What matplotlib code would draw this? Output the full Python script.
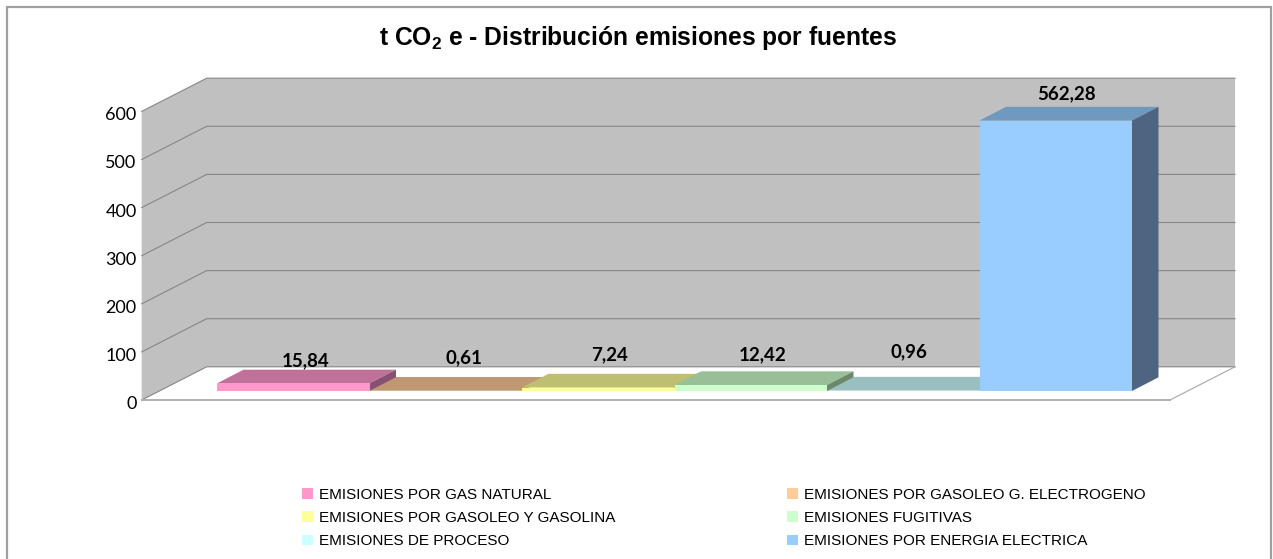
import matplotlib
matplotlib.use("Agg")
import matplotlib.pyplot as plt
from matplotlib.patches import Polygon

W, H = 1273, 559

categories = [
    "EMISIONES POR GAS NATURAL",
    "EMISIONES POR GASOLEO G. ELECTROGENO",
    "EMISIONES POR GASOLEO Y GASOLINA",
    "EMISIONES FUGITIVAS",
    "EMISIONES DE PROCESO",
    "EMISIONES POR ENERGIA ELECTRICA",
]
values = [15.84, 0.61, 7.24, 12.42, 0.96, 562.28]
value_labels = ["15,84", "0,61", "7,24", "12,42", "0,96", "562,28"]
y_ticks = [0, 100, 200, 300, 400, 500, 600]

front_colors = ["#FF99CC", "#FFCC99", "#FFFF99", "#CCFFCC", "#CCFFFF", "#99CCFF"]
top_colors = ["#BF7199", "#BF9872", "#BFBF72", "#99BF99", "#99BFBF", "#7099BF"]
side_colors = ["#875070", "#876C50", "#878750", "#6C876C", "#6C8787", "#4F6480"]

# Label nudges in pixels from the bar's front top centre
label_dx = [12, 18, 11, 12, 6, 11]
label_dy = [23, 33, 33, 30, 39, 27]

# Layout, in picture pixels
CAT_W = 152.5
CAT_0 = 293.25
VAL_H = 0.481
BAR_BASE = 391
DEPTH_X = 26.5
DEPTH_Y = 13.7


def cx(px):
    return (px - CAT_0) / CAT_W


def vy(px):
    return (BAR_BASE - px) / VAL_H


plt.rcParams["font.family"] = "Liberation Sans"
plt.rcParams["mathtext.default"] = "regular"

fig = plt.figure(figsize=(W / 100, H / 100), dpi=100)
ax = fig.add_axes([0, 0, 1, 1])
ax.set_xlim(cx(0), cx(W))
ax.set_ylim(vy(H), vy(0))
ax.axis("off")

# Outer frame, the bottom edge falls off the picture
ax.plot([cx(6.5), cx(6.5), cx(1270.5), cx(1270.5)], [vy(H), vy(6.5), vy(6.5), vy(H)],
        color="#A0A0A0", lw=1.6, solid_joinstyle="miter", zorder=1)

# Walls and floor
FRONT_L, BACK_L, BACK_R, FRONT_R = 141.7, 206.7, 1235, 1170
FRONT_0, BACK_0 = 400, 366.8
top_val = y_ticks[-1]
ax.add_patch(Polygon([(cx(FRONT_L), vy(FRONT_0)), (cx(BACK_L), vy(BACK_0)),
                      (cx(BACK_R), vy(BACK_0)), (cx(BACK_R), vy(BACK_0) + top_val),
                      (cx(BACK_L), vy(BACK_0) + top_val), (cx(FRONT_L), vy(FRONT_0) + top_val)],
                     closed=True, fc="#C0C0C0", ec="none", zorder=2))
for t in y_ticks:
    ax.plot([cx(FRONT_L), cx(BACK_L), cx(BACK_R)],
            [vy(FRONT_0) + t, vy(BACK_0) + t, vy(BACK_0) + t],
            color="#868686", lw=0.8, zorder=3)
    ax.annotate(str(t), (cx(FRONT_L), vy(FRONT_0) + t), xytext=(-5, -4), textcoords="offset pixels",
                ha="right", va="center", fontsize=13, family="Lato", color="#000000")
ax.plot([cx(FRONT_R), cx(BACK_R)], [vy(FRONT_0), vy(BACK_0)], color="#A6A6A6", lw=0.8, zorder=3)
ax.plot([cx(FRONT_L), cx(FRONT_R)], [vy(FRONT_0), vy(FRONT_0)], color="#B0B0B0", lw=1.4, zorder=3)

# Bars, taller ones sit over the neighbours' faces
ddx = DEPTH_X / CAT_W
ddy = DEPTH_Y / VAL_H
positions = list(range(len(values)))
handles = []
for i in positions:
    v = values[i]
    z = 10 + v
    bar = ax.bar(i, v, width=1.0, color=front_colors[i], linewidth=0, zorder=z + 0.2)
    handles.append(bar[0])
    ax.add_patch(Polygon([(i - 0.5, v), (i - 0.5 + ddx, v + ddy), (i + 0.5 + ddx, v + ddy), (i + 0.5, v)],
                         closed=True, fc=top_colors[i], ec="none", zorder=z))
    ax.add_patch(Polygon([(i + 0.5, 0), (i + 0.5 + ddx, ddy), (i + 0.5 + ddx, v + ddy), (i + 0.5, v)],
                         closed=True, fc=side_colors[i], ec="none", zorder=z))
    ax.annotate(value_labels[i], (i, v), xytext=(label_dx[i], label_dy[i]), textcoords="offset pixels",
                ha="center", va="center", fontsize=13.5, family="Lato", fontweight="bold",
                color="#000000", zorder=1000)

ax.text(cx(637.5), vy(38), "t CO$_{2}$ e - Distribución emisiones por fuentes",
        ha="center", va="center", fontsize=17.7, fontweight="bold", color="#000000", zorder=1000)

# ncol fills by column, so the reading order is swapped to get rows
order = [0, 2, 4, 1, 3, 5]
leg = ax.legend([handles[i] for i in order], [categories[i] for i in order], ncol=2,
                loc="upper left", bbox_to_anchor=(302 / W, 1 - 488 / H), bbox_transform=fig.transFigure,
                frameon=False, fontsize=11, handlelength=0.72, handleheight=0.72, handletextpad=0.4,
                labelspacing=0.6, columnspacing=11.2, borderpad=0, borderaxespad=0)
leg.set_zorder(1000)

fig.savefig("out.png", dpi=100)
